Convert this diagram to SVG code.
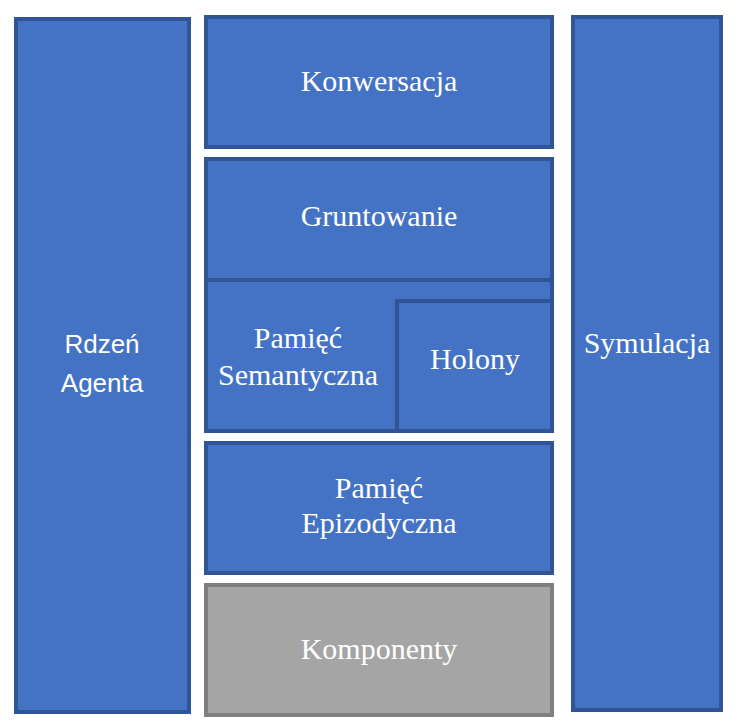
<svg xmlns="http://www.w3.org/2000/svg" width="739" height="728" viewBox="0 0 739 728">
<style>
.b{fill:#4472c4;stroke:#2f5597;stroke-width:4}
.g{fill:#a5a5a5;stroke:#7f7f7f;stroke-width:4}
</style>
<rect width="739" height="728" fill="#ffffff"/>
<g id="rdzen-agenta" font-family="Liberation Sans, sans-serif" font-size="26" fill="#ffffff" text-anchor="middle">
<rect class="b" x="16" y="19" width="173" height="693"/>
<text x="102" y="353">Rdzeń</text>
<text x="102" y="392">Agenta</text>
</g>
<g font-family="Liberation Serif, serif" font-size="30" fill="#ffffff" text-anchor="middle">
<g id="konwersacja">
<rect class="b" x="206" y="17" width="346" height="130"/>
<text x="379" y="91">Konwersacja</text>
</g>
<g id="gruntowanie">
<rect class="b" x="206" y="159" width="346" height="121"/>
<text x="379" y="226">Gruntowanie</text>
</g>
<g id="pamiec-semantyczna">
<rect class="b" x="206" y="280" width="346" height="151"/>
<text x="298" y="348">Pamięć</text>
<text x="298" y="385">Semantyczna</text>
</g>
<g id="holony">
<rect class="b" x="397" y="301" width="155" height="130"/>
<text x="475" y="369">Holony</text>
</g>
<g id="pamiec-epizodyczna">
<rect class="b" x="206" y="443" width="346" height="130"/>
<text x="379" y="498">Pamięć</text>
<text x="379" y="533">Epizodyczna</text>
</g>
<g id="komponenty">
<rect class="g" x="206" y="585" width="346" height="130"/>
<text x="379" y="659">Komponenty</text>
</g>
<g id="symulacja">
<rect class="b" x="573" y="17" width="148" height="693"/>
<text x="647" y="353">Symulacja</text>
</g>
</g>
<g id="connectors"/>
</svg>
